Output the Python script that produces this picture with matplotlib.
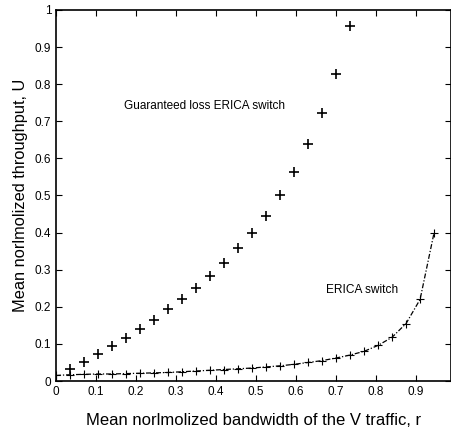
import matplotlib
matplotlib.use("Agg")
import matplotlib.pyplot as plt

plt.rcParams['font.family'] = ['Liberation Sans', 'DejaVu Sans']

# Guaranteed loss ERICA switch (points only)
r_guar = [0.035, 0.07, 0.105, 0.14, 0.175, 0.21, 0.245, 0.28, 0.315, 0.35, 0.385,
          0.42, 0.455, 0.49, 0.525, 0.56, 0.595, 0.63, 0.665, 0.70, 0.735]
u_guar = [0.032, 0.052, 0.073, 0.095, 0.116, 0.14, 0.165, 0.195, 0.222, 0.251, 0.284,
          0.318, 0.359, 0.40, 0.446, 0.50, 0.562, 0.638, 0.722, 0.827, 0.957]

# ERICA switch (line with markers)
r_erica = [0.0, 0.035, 0.07, 0.105, 0.14, 0.175, 0.21, 0.245, 0.28, 0.315, 0.35, 0.385,
           0.42, 0.455, 0.49, 0.525, 0.56, 0.595, 0.63, 0.665, 0.70, 0.735, 0.77,
           0.805, 0.84, 0.875, 0.91, 0.945]
u_erica = [0.015, 0.017, 0.018, 0.019, 0.019, 0.020, 0.021, 0.022, 0.023, 0.025, 0.027, 0.029,
           0.031, 0.033, 0.035, 0.038, 0.041, 0.045, 0.050, 0.055, 0.062, 0.070, 0.080,
           0.096, 0.118, 0.155, 0.22, 0.40]

xticks = [0, 0.1, 0.2, 0.3, 0.4, 0.5, 0.6, 0.7, 0.8, 0.9]
xtick_labels = ['0', '0.1', '0.2', '0.3', '0.4', '0.5', '0.6', '0.7', '0.8', '0.9']
yticks = [0, 0.1, 0.2, 0.3, 0.4, 0.5, 0.6, 0.7, 0.8, 0.9, 1.0]
ytick_labels = ['0', '0.1', '0.2', '0.3', '0.4', '0.5', '0.6', '0.7', '0.8', '0.9', '1']

fig = plt.figure(figsize=(4.52, 4.32), dpi=100)
ax = fig.add_axes([0.124, 0.118, 0.874, 0.859])

ax.plot(r_guar, u_guar, linestyle='none', marker='+', markersize=7.5,
        markeredgewidth=1.2, color='black')
ax.plot(r_erica, u_erica, linestyle=(0, (4, 1.5, 1, 1.5)), linewidth=0.9, marker='+',
        markersize=5.5, markeredgewidth=0.8, color='black')

ax.text(0.17, 0.74, 'Guaranteed loss ERICA switch', fontsize=8.5, va='center')
ax.text(0.675, 0.245, 'ERICA switch', fontsize=8.6, va='center')

ax.set_xlim(0, 0.9875)
ax.set_ylim(0, 1)
ax.set_xticks(xticks)
ax.set_xticklabels(xtick_labels)
ax.set_yticks(yticks)
ax.set_yticklabels(ytick_labels)
ax.tick_params(direction='in', top=True, right=True, length=4, labelsize=8.5)
for s in ax.spines.values():
    s.set_linewidth(1.2)

ax.set_xlabel('Mean norlmolized bandwidth of the V traffic, r', fontsize=12, labelpad=11)
ax.set_ylabel('Mean norlmolized throughput, U', fontsize=11.8, labelpad=5)

fig.savefig('out.png', dpi=100)
